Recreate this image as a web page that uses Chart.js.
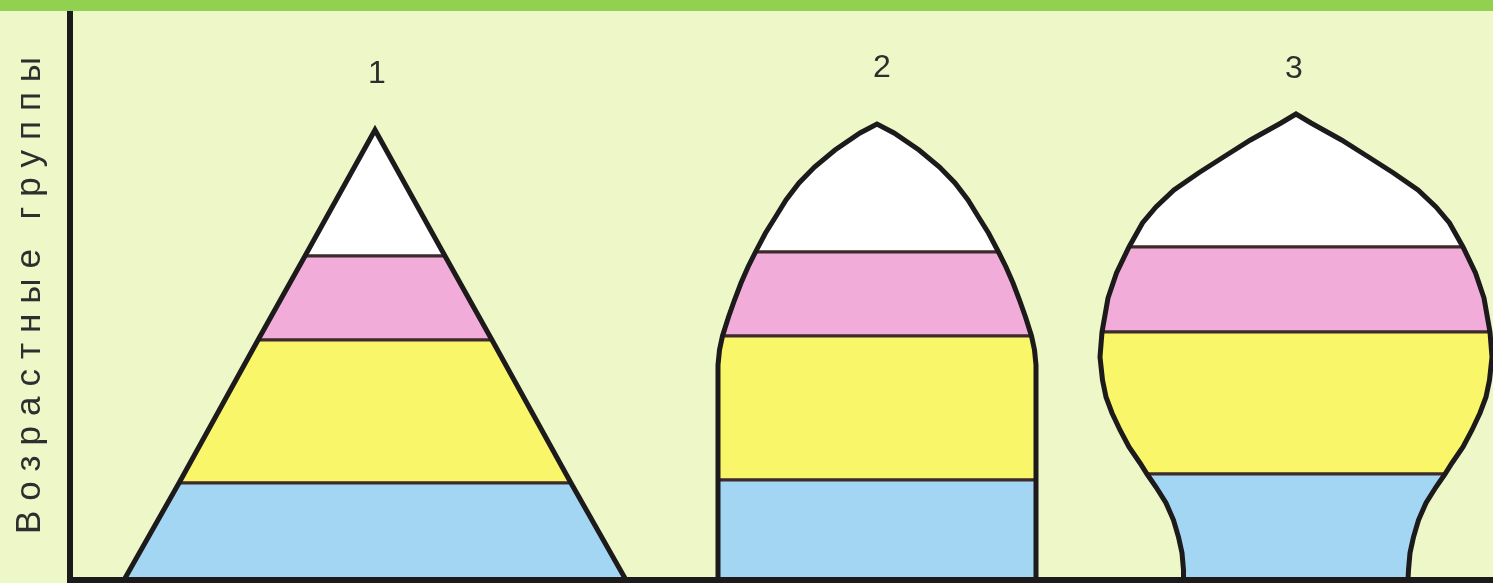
<!DOCTYPE html>
<html lang="ru">
<head>
<meta charset="utf-8">
<title>Возрастные группы</title>
<script src="https://cdn.jsdelivr.net/npm/chart.js@4.4.1/dist/chart.umd.min.js"></script>
<style>
    html, body { margin: 0; padding: 0; background: #edf7c8; }
    #wrap {
        width: 1493px;
        height: 583px;
        box-sizing: border-box;
        border-top: 11px solid #92d050;
        background: #edf7c8;
    }
    canvas { display: block; }
</style>
</head>
<body>
<div id="wrap"><canvas id="pyramids" width="1493" height="572"></canvas></div>
<script>
// Age pyramids: 1 - growing, 2 - stable, 3 - shrinking population

const shapeNames = ['1', '2', '3'];
const shapeCenters = [30.5, 80.7, 122.6];
const labelPositions = [30.7, 81.2, 122.4];
const labelHeights = [50.6, 51.2, 51.1];

// Figure 1 - height (age) and half-width at that height
const heights1 = [0, 9.7, 24.0, 32.4, 45.0];
const halfWidths1 = [25.1, 19.6, 11.7, 7.0, 0];
const bandLevels1 = [0, 9.7, 24.0, 32.4, 45.0];

// Figure 2
const heights2 = [0, 10.0, 21.5, 23.0, 24.4, 26.3, 28.0, 29.7, 31.3, 32.8, 34.7, 36.3, 38.0, 39.7, 41.3, 43.0, 44.7, 45.6];
const halfWidths2 = [15.9, 15.9, 15.9, 15.75, 15.45, 14.85, 14.25, 13.6, 12.9, 12.15, 11.15, 10.15, 9.1, 7.8, 6.25, 4.2, 1.7, 0];
const bandLevels2 = [0, 10.0, 24.4, 32.8, 45.6];

// Figure 3
const heights3 = [0, 1.0, 2.7, 4.3, 6.0, 7.7, 9.3, 10.6, 11.7, 13.3, 15.0, 16.7, 18.3, 20.0, 22.3, 24.8, 28.2, 30.7, 33.3, 35.7, 37.3, 39.0, 40.7, 42.3, 44.0, 45.7, 46.6];
const halfWidths3 = [11.2, 11.25, 11.4, 11.75, 12.25, 13.0, 14.0, 14.9, 15.6, 16.7, 17.6, 18.4, 19.0, 19.35, 19.6, 19.4, 18.8, 17.95, 16.7, 15.35, 14.0, 12.2, 9.75, 7.25, 4.55, 1.5, 0];
const bandLevels3 = [0, 10.6, 24.8, 33.3, 46.6];

// Bands from bottom to top
const bandColors = ['#a2d6f2', '#faf66a', '#f2acd9', '#ffffff'];

const figures = [
    { heights: heights1, halfWidths: halfWidths1, bands: bandLevels1 },
    { heights: heights2, halfWidths: halfWidths2, bands: bandLevels2 },
    { heights: heights3, halfWidths: halfWidths3, bands: bandLevels3 }
];

const fontFamily = '"Liberation Sans", Arial, sans-serif';

// Closed outline of the figure between two heights
function slicePolygon(center, heights, halfWidths, lo, hi) {
    const left = [];
    const right = [];
    heights.forEach((h, i) => {
        if (h >= lo && h <= hi) {
            left.push({ x: center - halfWidths[i], y: h });
            right.unshift({ x: center + halfWidths[i], y: h });
        }
    });
    const pts = left.concat(right);
    pts.push(pts[0]);
    return pts;
}

const datasets = [];

figures.forEach((fig, f) => {
    const center = shapeCenters[f];
    for (let b = 0; b < fig.bands.length - 1; b++) {
        datasets.push({
            label: 'Фигура ' + shapeNames[f] + ' / ' + (b + 1),
            data: slicePolygon(center, fig.heights, fig.halfWidths, fig.bands[b], fig.bands[b + 1]),
            showLine: true,
            fill: 'shape',
            backgroundColor: bandColors[b],
            borderColor: '#3d2b2b',
            borderWidth: 3,
            pointRadius: 0,
            order: 1
        });
    }
    datasets.push({
        label: 'Фигура ' + shapeNames[f],
        data: slicePolygon(center, fig.heights, fig.halfWidths, 0, Infinity),
        showLine: true,
        fill: false,
        borderColor: '#1c1a1a',
        borderWidth: 5,
        borderJoinStyle: 'miter',
        pointRadius: 0,
        order: 0
    });
});

// Spaced-out axis title like in the textbook picture
const titleSpacing = {
    id: 'titleSpacing',
    beforeDraw(chart) {
        const ctx = chart.ctx;
        ctx.save();
        ctx.letterSpacing = '10px';
        // letter spacing adds a trailing gap, pull the text back to centre
        ctx.translate(0, -5);
    },
    beforeDatasetsDraw(chart) {
        chart.ctx.restore();
    }
};

// Figure numbers above each pyramid
const shapeNumbers = {
    id: 'shapeNumbers',
    afterDatasetsDraw(chart) {
        const { ctx, scales: { x, y } } = chart;
        ctx.save();
        ctx.font = '32px ' + fontFamily;
        ctx.fillStyle = '#2e2e2e';
        ctx.textAlign = 'center';
        ctx.textBaseline = 'middle';
        shapeNames.forEach((name, i) => {
            ctx.fillText(name, x.getPixelForValue(labelPositions[i]), y.getPixelForValue(labelHeights[i]));
        });
        ctx.restore();
    }
};

new Chart(document.getElementById('pyramids'), {
    type: 'scatter',
    data: { datasets: datasets },
    options: {
        responsive: false,
        animation: false,
        events: [],
        layout: { padding: { left: 0, right: 0, top: 0, bottom: 3 } },
        scales: {
            x: {
                type: 'linear',
                min: 0,
                max: 142.3,
                grid: { display: false, drawTicks: false },
                ticks: { display: false },
                border: { display: true, color: '#1c1a1a', width: 6, z: 1 }
            },
            y: {
                type: 'linear',
                min: 0,
                max: 56.9,
                grid: { display: false, drawTicks: false },
                ticks: { display: false },
                border: { display: true, color: '#1c1a1a', width: 6, z: 1 },
                title: {
                    display: true,
                    text: 'Возрастные группы',
                    color: '#2e2e2e',
                    font: { family: fontFamily, size: 35 },
                    padding: { top: 9, bottom: 19 }
                }
            }
        },
        plugins: {
            legend: { display: false },
            tooltip: { enabled: false }
        }
    },
    plugins: [titleSpacing, shapeNumbers]
});
</script>
</body>
</html>
